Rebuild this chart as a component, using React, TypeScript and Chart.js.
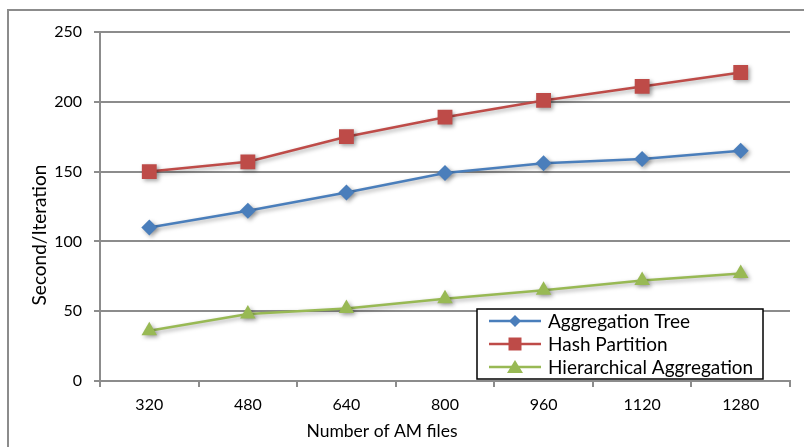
import React, { useEffect, useRef } from "react";
import { Chart, registerables } from "chart.js";

Chart.register(...registerables);

const categories = ["320", "480", "640", "800", "960", "1120", "1280"];
const aggregationTree = [110, 122, 135, 149, 156, 159, 165];
const hashPartition = [150, 157, 175, 189, 201, 211, 221];
const hierarchicalAggregation = [36, 48, 52, 59, 65, 72, 77];
const yTicks = [0, 50, 100, 150, 200, 250];
const xTitle = "Number of AM files";
const yTitle = "Second/Iteration";

const FONT = "Lato, 'Open Sans', sans-serif";
const BLUE = "#4A7EBB";
const RED = "#BE4B48";
const GREEN = "#98B954";
const GRID = "#8c8c8c";

const shadowPlugin = {
  id: "shadowPlugin",
  beforeDatasetDraw(chart: any) {
    const ctx = chart.ctx;
    ctx.save();
    ctx.shadowColor = "rgba(0,0,0,0.35)";
    ctx.shadowBlur = 4;
    ctx.shadowOffsetX = 2;
    ctx.shadowOffsetY = 2;
  },
  afterDatasetDraw(chart: any) {
    chart.ctx.restore();
  },
};

const framePlugin = {
  id: "framePlugin",
  beforeDraw(chart: any) {
    const ctx = chart.ctx;
    ctx.save();
    ctx.fillStyle = "#ffffff";
    ctx.fillRect(0, 0, chart.width, chart.height);
    ctx.strokeStyle = "#8c8c8c";
    ctx.lineWidth = 2;
    ctx.beginPath();
    ctx.moveTo(8, chart.height);
    ctx.lineTo(8, 10);
    ctx.lineTo(chart.width, 10);
    ctx.stroke();
    ctx.restore();
  },
  afterDraw(chart: any) {
    const ctx = chart.ctx;
    ctx.save();
    ctx.fillStyle = "#000000";
    ctx.textAlign = "center";
    ctx.textBaseline = "middle";
    ctx.font = `17.5px ${FONT}`;
    ctx.fillText(xTitle, 382, 431);
    ctx.translate(40, 235);
    ctx.rotate(-Math.PI / 2);
    ctx.font = `19px ${FONT}`;
    ctx.fillText(yTitle, 0, 0);
    ctx.restore();
  },
};

const legendPlugin = {
  id: "boxLegend",
  afterDraw(chart: any) {
    const ctx = chart.ctx;
    const x0 = 477, y0 = 309, w = 286, h = 70;
    ctx.save();
    ctx.fillStyle = "#ffffff";
    ctx.fillRect(x0, y0, w, h);
    ctx.strokeStyle = "#000000";
    ctx.lineWidth = 1.5;
    ctx.strokeRect(x0, y0, w, h);
    const items = chart.data.datasets;
    items.forEach((ds: any, i: number) => {
      const cy = y0 + 12 + i * 23;
      ctx.strokeStyle = ds.borderColor;
      ctx.lineWidth = 2.5;
      ctx.beginPath();
      ctx.moveTo(x0 + 12, cy);
      ctx.lineTo(x0 + 64, cy);
      ctx.stroke();
      ctx.fillStyle = ds.pointBackgroundColor;
      const mx = x0 + 38;
      ctx.beginPath();
      if (ds.pointStyle === "rectRot") {
        const r = 6;
        ctx.moveTo(mx, cy - r);
        ctx.lineTo(mx + r, cy);
        ctx.lineTo(mx, cy + r);
        ctx.lineTo(mx - r, cy);
        ctx.closePath();
        ctx.fill();
      } else if (ds.pointStyle === "rect") {
        ctx.rect(mx - 6.5, cy - 6.5, 13, 13);
        ctx.fill();
      } else {
        ctx.moveTo(mx, cy - 7);
        ctx.lineTo(mx + 8, cy + 6);
        ctx.lineTo(mx - 8, cy + 6);
        ctx.closePath();
        ctx.fill();
      }
      ctx.fillStyle = "#000000";
      ctx.font = `19px ${FONT}`;
      ctx.textBaseline = "middle";
      ctx.textAlign = "left";
      ctx.fillText(ds.label, x0 + 71, cy + 1);
    });
    ctx.restore();
  },
};

export default function App() {
  const ref = useRef<HTMLCanvasElement | null>(null);

  useEffect(() => {
    if (!ref.current) return;
    const mk = (label: string, data: number[], color: string, style: string, r: number) => ({
      label,
      data,
      borderColor: color,
      backgroundColor: color,
      pointBackgroundColor: color,
      pointBorderColor: color,
      pointBorderWidth: 0,
      pointStyle: style,
      pointRadius: r,
      borderWidth: 2.5,
      tension: 0,
      fill: false,
    });
    const chart = new Chart(ref.current, {
      type: "line",
      data: {
        labels: categories,
        datasets: [
          mk("Aggregation Tree", aggregationTree, BLUE, "rectRot", 8),
          mk("Hash Partition", hashPartition, RED, "rect", 10.5),
          mk("Hierarchical Aggregation", hierarchicalAggregation, GREEN, "triangle", 9),
        ] as any,
      },
      options: {
        animation: false,
        responsive: false,
        maintainAspectRatio: false,
        layout: { padding: { left: 0, top: 32, right: 14, bottom: 0 } },
        plugins: {
          legend: { display: false },
          tooltip: { enabled: false },
        },
        scales: {
          x: {
            type: "category",
            offset: true,
            grid: {
              offset: true,
              drawOnChartArea: false,
              drawTicks: true,
              tickLength: 6,
              color: GRID,
              lineWidth: 2,
            },
            border: { display: true, color: GRID, width: 2 },
            ticks: {
              color: "#000",
              font: { family: FONT, size: 16 },
              padding: 8,
              maxRotation: 0,
            },
            title: { display: false },
            afterFit(scale: any) {
              scale.height = 66;
            },
          },
          y: {
            min: 0,
            max: 250,
            afterBuildTicks(scale: any) {
              scale.ticks = yTicks.map((v) => ({ value: v }));
            },
            grid: {
              color: GRID,
              lineWidth: 2,
              tickLength: 6,
            },
            border: { display: true, color: GRID, width: 2 },
            ticks: {
              color: "#000",
              font: { family: FONT, size: 16 },
              padding: 12,
            },
            title: { display: false },
            afterFit(scale: any) {
              scale.width = 100;
            },
          },
        },
      },
      plugins: [framePlugin, shadowPlugin, legendPlugin],
    } as any);
    return () => chart.destroy();
  }, []);

  return (
    <div style={{ position: "absolute", left: 0, top: 0, width: 804, height: 447 }}>
      <canvas ref={ref} width={804} height={447} style={{ display: "block" }} />
    </div>
  );
}
